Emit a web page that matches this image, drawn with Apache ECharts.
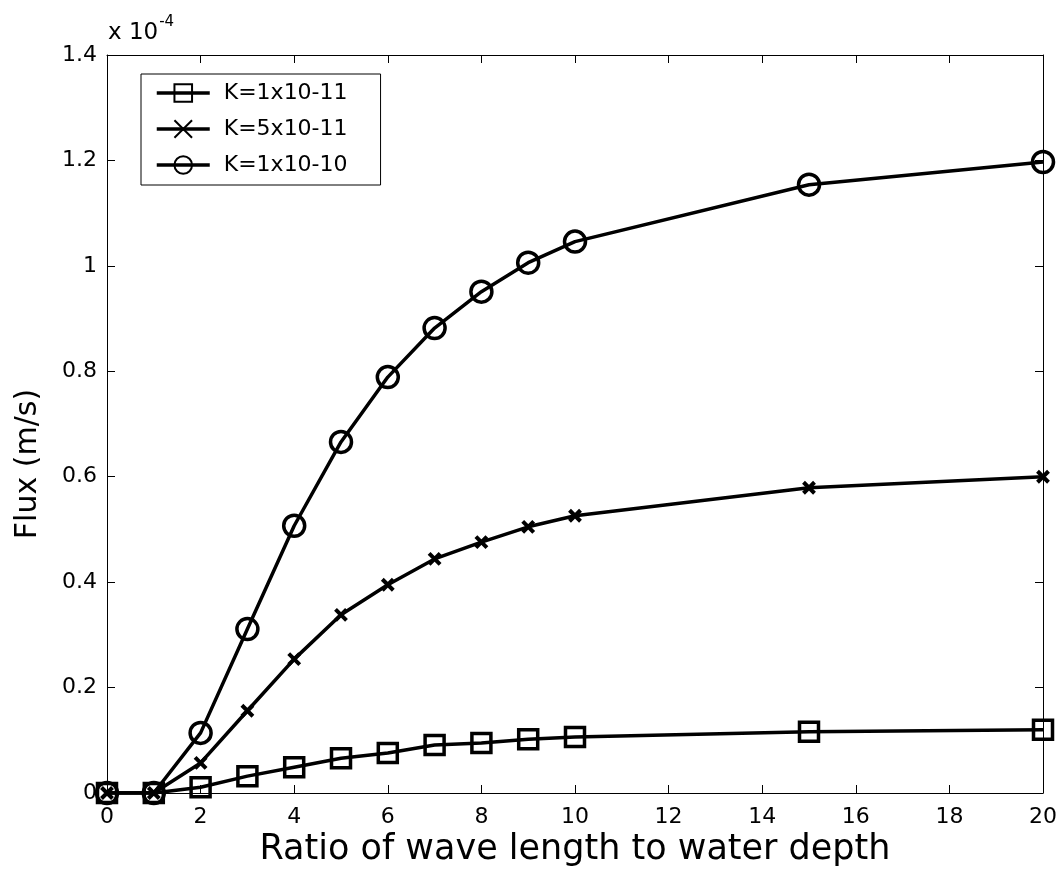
<!DOCTYPE html>
<html>
<head>
<meta charset="utf-8">
<script src="https://cdn.jsdelivr.net/npm/echarts@6/dist/echarts.min.js"></script>
<style>
html,body{margin:0;padding:0;background:#fff;}
#chart{width:1061px;height:884px;}
</style>
</head>
<body>
<div id="chart"></div>
<script>
// Ratio of wave length to water depth
var ratios = [0, 1, 2, 3, 4, 5, 6, 7, 8, 9, 10, 15, 20];
// Flux (x 10^-4 m/s)
var fluxK1e11 = [0, 0, 0.011, 0.032, 0.049, 0.066, 0.076, 0.091, 0.095, 0.102, 0.106, 0.116, 0.120];
var fluxK5e11 = [0, 0, 0.057, 0.156, 0.254, 0.338, 0.395, 0.444, 0.476, 0.505, 0.526, 0.579, 0.600];
var fluxK1e10 = [0, 0, 0.114, 0.311, 0.507, 0.666, 0.789, 0.882, 0.951, 1.006, 1.046, 1.154, 1.197];
var seriesNames = ['K=1x10-11', 'K=5x10-11', 'K=1x10-10'];

function pairs(xs, ys) { return xs.map(function (x, i) { return [x, ys[i]]; }); }

var FONT = 'DejaVu Sans';
var chart = echarts.init(document.getElementById('chart'), null, {renderer: 'canvas'});

var baseLine = {color: '#000', width: 3.5};
var option = {
  animation: false,
  backgroundColor: '#fff',
  title: {
    text: '{a|x 10}{b|-4}',
    left: 103, top: 10,
    textStyle: {
      fontFamily: FONT, fontSize: 23, fontWeight: 'normal', color: '#000',
      rich: {
        a: {fontFamily: FONT, fontSize: 23, fontWeight: 'normal', color: '#000', verticalAlign: 'bottom', lineHeight: 30},
        b: {fontFamily: FONT, fontSize: 15, fontWeight: 'normal', color: '#000', verticalAlign: 'top', lineHeight: 30, padding: [0, 0, 15, 1]}
      }
    }
  },
  legend: {
    orient: 'vertical',
    left: 141, top: 74,
    padding: [8, 33, 9, 14],
    itemWidth: 53, itemHeight: 22, itemGap: 14,
    borderColor: '#000', borderWidth: 1,
    backgroundColor: '#fff',
    lineStyle: {width: 3.5, color: '#000'},
    textStyle: {fontFamily: FONT, fontSize: 22, color: '#000', padding: [0, 0, 0, 9]},
    data: seriesNames
  },
  grid: {left: 107, right: 18, top: 55, bottom: 91, containLabel: false},
  xAxis: [{
    type: 'value', min: 0, max: 20, interval: 2, position: 'bottom',
    name: 'Ratio of wave length to water depth',
    nameLocation: 'middle', nameGap: 35,
    nameTextStyle: {fontFamily: FONT, fontSize: 35, color: '#000'},
    axisLine: {show: true, onZero: false, lineStyle: {color: '#000', width: 1}},
    axisTick: {show: true, inside: true, length: 8, lineStyle: {color: '#000'}},
    axisLabel: {fontFamily: FONT, fontSize: 22, color: '#000', margin: 13},
    splitLine: {show: false}
  }, {
    type: 'value', min: 0, max: 20, interval: 2, position: 'top',
    axisLine: {show: true, onZero: false, lineStyle: {color: '#000', width: 1}},
    axisTick: {show: true, inside: true, length: 8, lineStyle: {color: '#000'}},
    axisLabel: {show: false}, splitLine: {show: false}
  }],
  yAxis: [{
    type: 'value', min: 0, max: 1.4, interval: 0.2, position: 'left',
    name: 'Flux (m/s)', nameLocation: 'middle', nameRotate: 90, nameGap: 64,
    nameTextStyle: {fontFamily: FONT, fontSize: 30, color: '#000', padding: [0, 80, 0, 0]},
    axisLine: {show: true, onZero: false, lineStyle: {color: '#000', width: 1}},
    axisTick: {show: true, inside: true, length: 8, lineStyle: {color: '#000'}},
    axisLabel: {fontFamily: FONT, fontSize: 22, color: '#000', margin: 10},
    splitLine: {show: false}
  }, {
    type: 'value', min: 0, max: 1.4, interval: 0.2, position: 'right',
    axisLine: {show: true, onZero: false, lineStyle: {color: '#000', width: 1}},
    axisTick: {show: true, inside: true, length: 8, lineStyle: {color: '#000'}},
    axisLabel: {show: false}, splitLine: {show: false}
  }],
  series: [{
    name: seriesNames[0], type: 'line', xAxisIndex: 0, yAxisIndex: 0,
    data: pairs(ratios, fluxK1e11),
    symbol: 'rect', symbolSize: 19,
    lineStyle: baseLine,
    itemStyle: {color: 'rgba(0,0,0,0)', borderColor: '#000', borderWidth: 3.5}
  }, {
    name: seriesNames[1], type: 'line', xAxisIndex: 0, yAxisIndex: 0,
    data: pairs(ratios, fluxK5e11),
    symbol: 'path://M0,0L10,10M10,0L0,10', symbolSize: 11,
    lineStyle: baseLine,
    itemStyle: {color: '#000', borderColor: '#000', borderWidth: 4}
  }, {
    name: seriesNames[2], type: 'line', xAxisIndex: 0, yAxisIndex: 0,
    data: pairs(ratios, fluxK1e10),
    symbol: 'circle', symbolSize: 21,
    lineStyle: baseLine,
    itemStyle: {color: 'rgba(0,0,0,0)', borderColor: '#000', borderWidth: 3.5}
  }]
};
chart.setOption(option);
</script>
</body>
</html>
